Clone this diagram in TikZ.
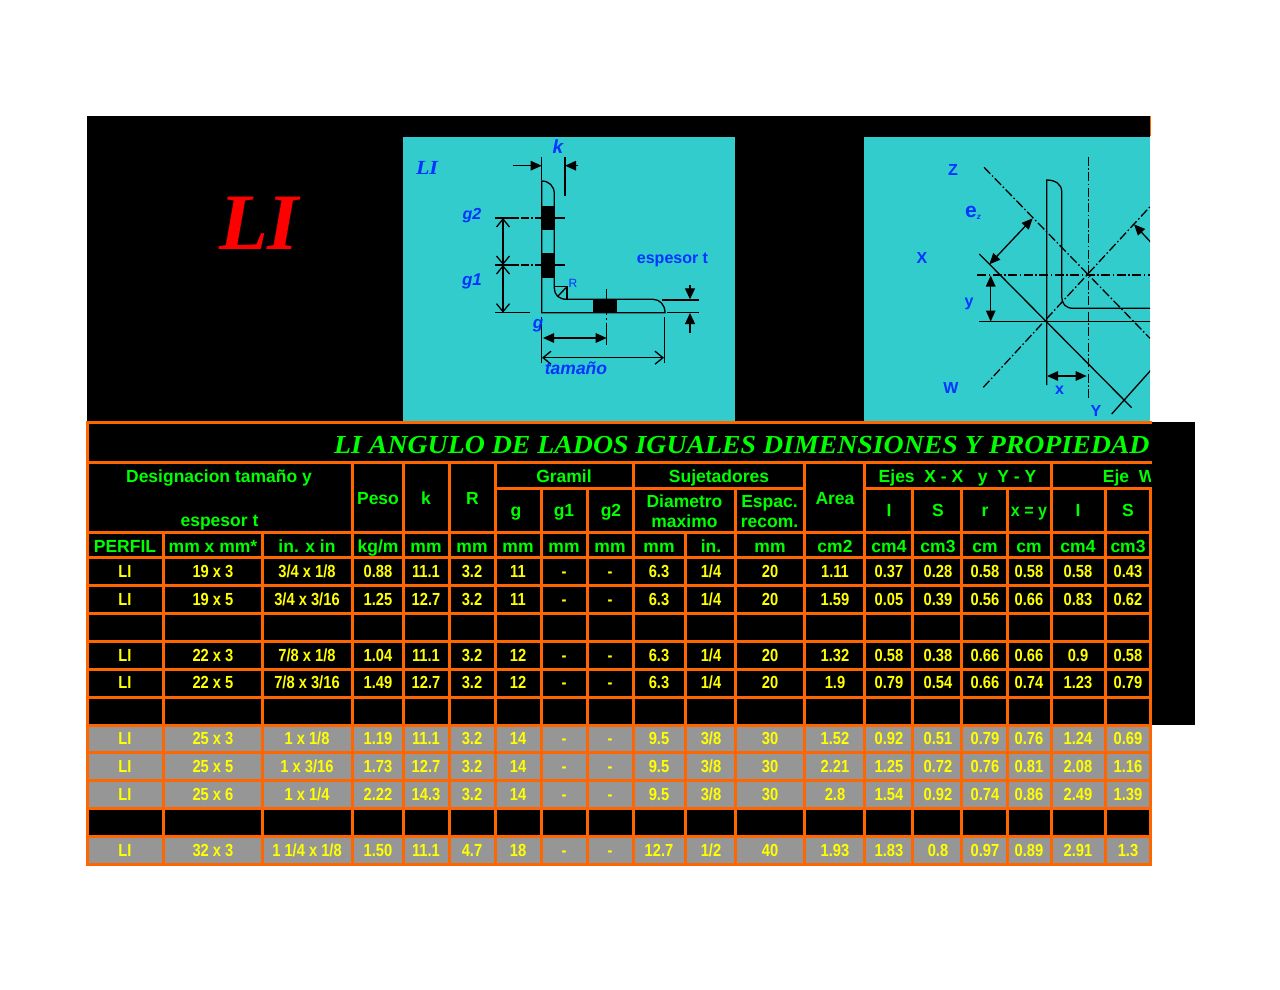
\documentclass[tikz,border=0pt]{standalone}
\usepackage{fontspec}
\usepackage{xcolor}
\usepackage{tikz}
\usetikzlibrary{arrows.meta}
\setmainfont{Liberation Sans}
\newfontfamily\serifbold{Liberation Serif}
\definecolor{edgeorange}{HTML}{FF6600}
\definecolor{panelteal}{HTML}{33CCCC}
\definecolor{headgreen}{HTML}{00FF00}
\definecolor{datayellow}{HTML}{FFFF00}
\definecolor{rowgray}{HTML}{969696}
\definecolor{labelblue}{HTML}{0033FF}
\def\colx{{125,213,307,378,426,472,518,564,610,659,711,770,835,889,938,985,1029,1078,1128}}
\newcommand{\sz}[1]{\fontsize{#1}{#1}\selectfont}

\begin{document}
\begin{tikzpicture}[x=1pt,y=-1pt,
    gridline/.style={draw=edgeorange,line width=3pt},
    head/.style={text=headgreen,font=\sz{17.5}\bfseries,anchor=base,inner sep=0pt},
    datum/.style={text=datayellow,font=\sz{17.5}\bfseries,anchor=base,inner sep=0pt,xscale=0.84,transform shape},
    lbl/.style={text=labelblue,font=\sz{16}\bfseries,inner sep=0pt},
    lblit/.style={text=labelblue,font=\sz{17.5}\bfseries\itshape,inner sep=0pt},
    part/.style={draw=black,line width=1.3pt},
    axisline/.style={draw=black,line width=1.3pt,dash pattern=on 9pt off 2.5pt on 1.5pt off 2.5pt},
    solid arrow/.style={draw=black,line width=1.3pt,{Triangle[length=11pt,width=9.5pt]}-{Triangle[length=11pt,width=9.5pt]}},
    open arrow/.style={draw=black,line width=1.3pt,{Straight Barb[length=8pt,width=13pt]}-{Straight Barb[length=8pt,width=13pt]}}]
\useasboundingbox (0,0) rectangle (1280,989);
\fill[black] (87,116) rectangle (1150,864);
\fill[black] (1150,422) rectangle (1195,725);
\draw[edgeorange,line width=0.7pt] (1150,116) -- (1150,136);
\fill[panelteal] (403,137) rectangle (735,421);
\fill[panelteal] (864,137) rectangle (1150,421);
\foreach \rowtop/\rowbot in {725/752,752/780,780/808,836/864}
    \fill[rowgray] (87,\rowtop) rectangle (1150,\rowbot);

\node[text=red,font=\sz{80}\serifbold\bfseries\itshape,inner sep=0pt] (bigname) at (259,223) {LI};

\node[text=labelblue,font=\sz{20}\serifbold\bfseries\itshape,inner sep=0pt,xscale=1.1,transform shape] (leftname) at (427,168) {LI};
\draw[part] (541.7,312.7) -- (541.7,181) .. controls (549,181) and (554.3,186) .. (554.3,194) -- (554.3,288)
    .. controls (554.3,295) and (559,299.3) .. (566.7,299.3) -- (653,299.3)
    .. controls (660,299.3) and (665,305) .. (665,312.7) -- cycle;
\fill[black] (541.7,206) rectangle (554.3,230);
\fill[black] (541.7,253.3) rectangle (554.3,277.7);
\fill[black] (593.3,299.3) rectangle (617.3,312.7);
\draw[part] (554.3,286.7) -- (567,286.7) -- (567,299.3);
\draw[part] (567,286.7) -- (558,296);
\draw[part,-{Triangle[length=11pt,width=9.5pt]}] (513,165.7) -- (541.7,165.7);
\draw[part,-{Triangle[length=11pt,width=9.5pt]}] (578.3,165.7) -- (565,165.7);
\draw[part] (541.7,157) -- (541.7,180);
\draw[part] (565,157) -- (565,196);
\draw[axisline,dash pattern=on 24pt off 2pt on 8pt off 2pt on 1.5pt off 2pt on 40pt] (495,218) -- (565,218);
\draw[axisline,dash pattern=on 24pt off 2pt on 8pt off 2pt on 1.5pt off 2pt on 40pt] (495,265) -- (565,265);
\draw[part] (495,312.7) -- (530,312.7);
\draw[open arrow] (503,218) -- (503,265);
\draw[open arrow] (503,265) -- (503,312.7);
\draw[part] (606.7,289.3) -- (606.7,300);
\draw[axisline,dash pattern=on 2pt off 3pt on 1.5pt off 3pt on 30pt] (606.7,313) -- (606.7,345);
\draw[solid arrow] (543,338) -- (606.7,338);
\draw[part] (541.7,317) -- (541.7,363);
\draw[part] (664.3,317) -- (664.3,363);
\draw[open arrow] (542,357.7) -- (664,357.7);
\draw[part] (661.7,300) -- (699,300);
\draw[part] (666.7,312.7) -- (699,312.7);
\draw[part,-{Triangle[length=11pt,width=10pt]}] (690,285) -- (690,299.3);
\draw[part,-{Triangle[length=11pt,width=10pt]}] (690,333) -- (690,313);
\node[lblit,font=\sz{19}\bfseries\itshape] (klabel) at (558,147) {k};
\node[lblit,font=\sz{16}\bfseries\itshape] (gtwo) at (472,216) {g2};
\node[lblit,font=\sz{17}\bfseries\itshape] (gone) at (472,281) {g1};
\node[lblit,font=\sz{17}\bfseries\itshape] (glabel) at (538,326) {g};
\node[lblit] (sizelabel) at (576,368) {tamaño};
\node[lbl] (thick) at (672.5,260) {espesor t};
\node[text=labelblue,font=\sz{12},inner sep=0pt] (rlabel) at (573,283) {R};

\begin{scope}
\clip (864,137) rectangle (1150,421);
\draw[axisline] (1088.7,156.7) -- (1088.7,398.3);
\draw[axisline] (977.3,275) -- (1150,275);
\draw[axisline] (984,167.3) -- (1150,338.3);
\draw[axisline] (983.3,387.3) -- (1150,206.7);
\draw[part] (1046.7,385) -- (1046.7,180) .. controls (1055,180) and (1061.7,184) .. (1061.7,191.7) -- (1061.7,297)
    .. controls (1061.7,304) and (1066,308.3) .. (1073.3,308.3) -- (1155,308.3);
\draw[part] (979.3,321.7) -- (1155,321.7);
\draw[part] (979.3,254) -- (1131.7,407.7);
\draw[part] (1111.7,414) -- (1155,365.5);
\draw[solid arrow] (989.3,264.3) -- (1032.7,218.3);
\draw[part,-{Triangle[length=11pt,width=9.5pt]}] (1152,243.5) -- (1134,224.3);
\draw[solid arrow] (990.7,275.5) -- (990.7,321.5);
\draw[solid arrow] (1047,376) -- (1086.7,376);
\end{scope}
\node[lbl] (zlabel) at (953,170) {Z};
\node[lbl] (ezlabel) at (973,213) {\sz{21}e\raisebox{-2pt}{\sz{8}\itshape z}};
\node[lbl] (xaxis) at (922,258) {X};
\node[lbl] (ylabel) at (969,304) {y};
\node[lbl] (wlabel) at (951,388) {W};
\node[lbl] (xlabel) at (1059.5,390) {x};
\node[lbl] (yaxis) at (1096,410.5) {Y};

\foreach \ly in {422,462,532,557,585,613,641,669,697,725,752,780,808,836,864}
    \draw[gridline] (85.5,\ly) -- (1151.5,\ly);
\draw[gridline] (495,488) -- (804,488);
\draw[gridline] (864,488) -- (1151.5,488);
\foreach \lx/\ly in {87/421,163/532,262/532,352/462,403/462,449/462,495/462,541/488,587/488,633/462,685/532,735/488,804/462,864/462,912/488,961/488,1007/488,1051/462,1105/488,1150/488}
    \draw[gridline] (\lx,\ly) -- (\lx,865.5);

\node[text=headgreen,font=\sz{26}\serifbold\bfseries\itshape,anchor=base west,inner sep=0pt,xscale=1.07,transform shape] (title) at (334,453)
    {LI ANGULO DE LADOS IGUALES DIMENSIONES Y PROPIEDAD};

\node[head] (desig) at (219,482) {Designacion tamaño y};
\node[head] (thickhead) at (219.5,526) {espesor t};
\node[head] (peso) at (378,504) {Peso};
\node[head] (khead) at (426,504) {k};
\node[head] (rhead) at (472.5,504) {R};
\node[head] (gramil) at (564,482) {Gramil};
\node[head] (sujet) at (719,482) {Sujetadores};
\node[head] (ghead) at (516,516) {g};
\node[head] (gonehead) at (564,516) {g1};
\node[head] (gtwohead) at (611,516) {g2};
\node[head] (diam) at (684.5,507) {Diametro};
\node[head] (maxim) at (684.5,527) {maximo};
\node[head] (espac) at (769.5,507) {Espac.};
\node[head] (recom) at (769.5,527) {recom.};
\node[head] (area) at (835,504) {Area};
\node[head] (ejes) at (957.5,482) {Ejes\ \ X - X\ \ \ y\ \ Y - Y};
\begin{scope}
\clip (1052,464) rectangle (1150,486);
\node[head,anchor=base west] (ejew) at (1102.7,482) {Eje\ \ W};
\end{scope}
\node[head] (ihead) at (889,516) {I};
\node[head] (shead) at (938,516) {S};
\node[head] (rrhead) at (985,516) {r};
\node[head,xscale=0.92,transform shape] (xyhead) at (1029,516) {x = y};
\node[head] (iwhead) at (1078,516) {I};
\node[head] (swhead) at (1128,516) {S};

\foreach \unit [count=\c] in {PERFIL,mm x mm*,in. x in,kg/m,mm,mm,mm,mm,mm,mm,in.,mm,cm2,cm4,cm3,cm,cm,cm4,cm3} {
    \pgfmathsetmacro\cellx{\colx[\c-1]}
    \node[head] (u\c) at (\cellx,552) {\unit};
}

\foreach \rowy/\rowdata in {
    577/{LI,19 x 3,3/4 x 1/8,0.88,11.1,3.2,11,-,-,6.3,1/4,20,1.11,0.37,0.28,0.58,0.58,0.58,0.43},
    605/{LI,19 x 5,3/4 x 3/16,1.25,12.7,3.2,11,-,-,6.3,1/4,20,1.59,0.05,0.39,0.56,0.66,0.83,0.62},
    661/{LI,22 x 3,7/8 x 1/8,1.04,11.1,3.2,12,-,-,6.3,1/4,20,1.32,0.58,0.38,0.66,0.66,0.9,0.58},
    688/{LI,22 x 5,7/8 x 3/16,1.49,12.7,3.2,12,-,-,6.3,1/4,20,1.9,0.79,0.54,0.66,0.74,1.23,0.79},
    744/{LI,25 x 3,1 x 1/8,1.19,11.1,3.2,14,-,-,9.5,3/8,30,1.52,0.92,0.51,0.79,0.76,1.24,0.69},
    772/{LI,25 x 5,1 x 3/16,1.73,12.7,3.2,14,-,-,9.5,3/8,30,2.21,1.25,0.72,0.76,0.81,2.08,1.16},
    800/{LI,25 x 6,1 x 1/4,2.22,14.3,3.2,14,-,-,9.5,3/8,30,2.8,1.54,0.92,0.74,0.86,2.49,1.39},
    856/{LI,32 x 3,1 1/4 x 1/8,1.50,11.1,4.7,18,-,-,12.7,1/2,40,1.93,1.83,0.8,0.97,0.89,2.91,1.3}} {
    \foreach \celltext [count=\c] in \rowdata {
        \pgfmathsetmacro\cellx{\colx[\c-1]}
        \node[datum] (d\rowy-\c) at (\cellx,\rowy) {\celltext};
    }
}
\end{tikzpicture}
\end{document}
